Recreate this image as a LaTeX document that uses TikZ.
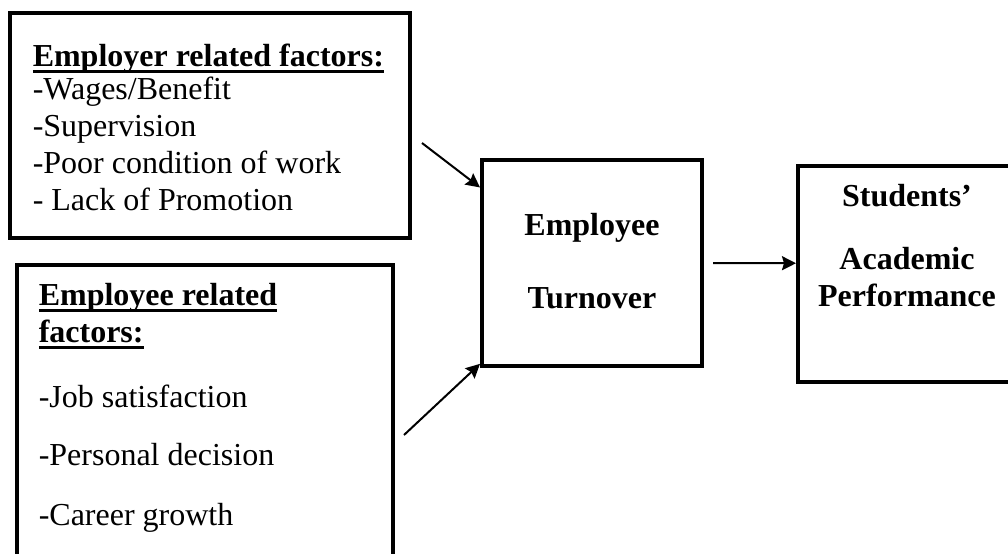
\documentclass[tikz,border=0pt]{standalone}
\usepackage{fontspec}
\setmainfont{Liberation Serif}
\usetikzlibrary{fit,arrows.meta}

\newcommand{\headul}[1]{\setbox0\hbox{\bfseries #1}\rlap{\rule[-3.3pt]{\wd0}{1.5pt}}\box0}

\tikzset{every picture/.style={line width=0.75pt}}
\tikzset{
  factorbox/.style={draw, line width=2pt, inner sep=0pt},
  factortext/.style={anchor=base west, inner sep=0pt, font=\fontsize{16}{19}\selectfont},
  boldtext/.style={anchor=base, inner sep=0pt, font=\fontsize{16}{19}\selectfont\bfseries},
  arrowline/.style={line width=1pt, -{Stealth[length=7pt, width=7pt, inset=1pt]}}
}

\begin{document}
\begin{tikzpicture}[x=0.5pt,y=0.5pt,yscale=-1,xscale=1]
	\useasboundingbox (0,0) rectangle (1008,553);
	\clip (0,0) rectangle (1008,553);

	%Shape: Rectangle [id:employerbox]
	\node [factorbox, fit={(10,13) (410,238)}] (employer) {};
	%Shape: Rectangle [id:employeebox]
	\node [factorbox, fit={(17,265) (393,600)}] (employee) {};
	%Shape: Rectangle [id:turnoverbox]
	\node [factorbox, fit={(482,160) (702,366)}] (turnover) {};
	%Shape: Rectangle [id:performancebox]
	\node [factorbox, fit={(798,166) (1040,382)}] (performance) {};

	% Text Node
	\node [factortext] (employerhead) at (32,66) {\headul{Employer related factors:}};
	% Text Node
	\node [factortext] (wages) at (32,99) {-Wages/Benefit};
	% Text Node
	\node [factortext] (supervision) at (32,136) {-Supervision};
	% Text Node
	\node [factortext] (condition) at (32,173) {-Poor condition of work};
	% Text Node
	\node [factortext] (promotion) at (32,210) {- Lack of Promotion};

	% Text Node
	\node [factortext] (employeehead) at (38,305) {\headul{Employee related}};
	% Text Node
	\node [factortext] (employeehead2) at (38,342) {\headul{factors:}};
	% Text Node
	\node [factortext] (satisfaction) at (38,407) {-Job satisfaction};
	% Text Node
	\node [factortext] (decision) at (38,465) {-Personal decision};
	% Text Node
	\node [factortext] (growth) at (38,525) {-Career growth};

	% Text Node
	\node [boldtext] (turnovertop) at (592,235) {Employee};
	% Text Node
	\node [boldtext] (turnoverbot) at (592,308) {Turnover};

	% Text Node
	\node [boldtext] (students) at (907,206) {Students’};
	% Text Node
	\node [boldtext] (academic) at (907,269) {Academic};
	% Text Node
	\node [boldtext] (perf) at (907,306) {Performance};

	%Straight Lines [id:employerarrow]
	\coordinate (employerout) at (422,143);
	\draw [arrowline] (employerout) -- (turnover.146);
	%Straight Lines [id:employeearrow]
	\coordinate (employeeout) at (404,435);
	\draw [arrowline] (employeeout) -- (turnover.222);
	%Straight Lines [id:turnoverarrow]
	\coordinate (turnoverout) at (713,263);
	\draw [arrowline] (turnoverout) -- (performance.175);

\end{tikzpicture}
\end{document}
